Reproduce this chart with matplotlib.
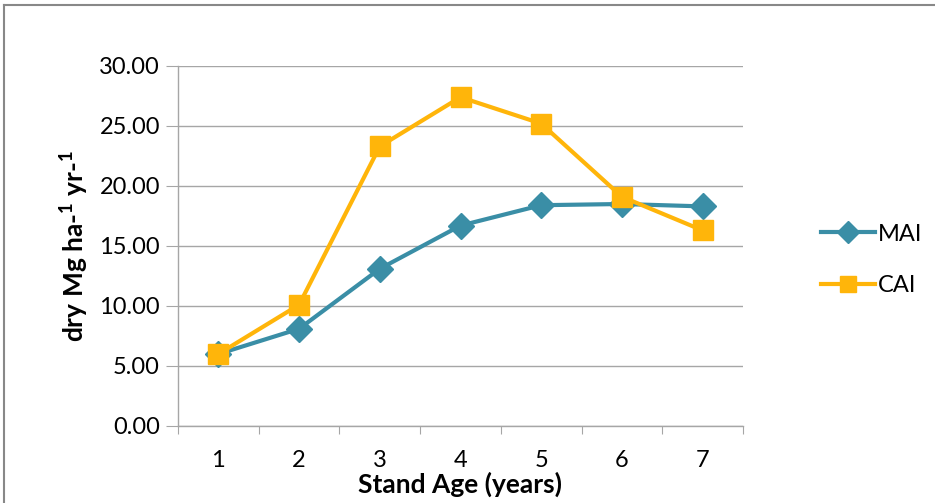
import numpy as np
import matplotlib
matplotlib.use("Agg")
from matplotlib import pyplot as plt
from matplotlib.lines import Line2D

# data
ages = [1, 2, 3, 4, 5, 6, 7]
mai = [6.0, 8.1, 13.1, 16.7, 18.4, 18.5, 18.3]
cai = [6.0, 10.1, 23.3, 27.4, 25.2, 19.1, 16.3]
yticks = [0, 5, 10, 15, 20, 25, 30]

plt.rcParams['font.family'] = ['Lato', 'DejaVu Sans']
plt.rcParams['mathtext.fontset'] = 'custom'
plt.rcParams['mathtext.bf'] = 'Lato:bold'
plt.rcParams['mathtext.rm'] = 'Lato:bold'

teal = '#3A8EA6'
gold = '#FFB50A'
grid_c = '#A6A6A6'

fig = plt.figure(figsize=(9.35, 5.03), dpi=100)
ax = fig.add_axes([178 / 935, 1 - 426 / 503, (743 - 178) / 935, (426 - 66) / 503])

ax.plot(ages, mai, color=teal, lw=3, marker='D', ms=13, label='MAI', zorder=3)
ax.plot(ages, cai, color=gold, lw=3, marker='s', ms=15, label='CAI', zorder=4)

ax.set_xlim(0.5, 7.5)
ax.set_ylim(0, 30)
ax.set_yticks(yticks)
ax.set_yticklabels(['%.2f' % v for v in yticks], fontsize=17)
ax.yaxis.grid(True, color=grid_c, lw=1)
ax.set_axisbelow(True)

# category axis: tick marks between categories, labels at centres
ax.set_xticks(np.arange(0.5, 8.0, 1.0))
ax.set_xticklabels([])
ax.set_xticks(ages, minor=True)
ax.set_xticklabels([str(a) for a in ages], minor=True, fontsize=17)
ax.tick_params(axis='x', which='major', length=6, color=grid_c)
ax.tick_params(axis='x', which='minor', length=0, pad=17)
ax.tick_params(axis='y', length=9, color=grid_c, pad=4)

for s in ['top', 'right']:
    ax.spines[s].set_visible(False)
for s in ['left', 'bottom']:
    ax.spines[s].set_color(grid_c)
    ax.spines[s].set_linewidth(1)

ax.set_xlabel('Stand Age (years)', fontsize=19, fontweight='bold', labelpad=1)
ax.set_ylabel(r'dry Mg ha-$^{1}$ yr-$^{1}$', fontsize=19, fontweight='bold', labelpad=6)

leg = fig.legend(loc='center left', bbox_to_anchor=(809 / 935, 1 - 260 / 503),
                 frameon=False, fontsize=17, labelspacing=1.3,
                 handlelength=2.3, handletextpad=0.1, borderpad=0)
for h in leg.legend_handles:
    h.set_markersize(11)

# outer chart frame (top and left edges visible)
fig.add_artist(Line2D([4 / 935, 4 / 935], [0, 1 - 5 / 503], color='#888888', lw=1.5))
fig.add_artist(Line2D([4 / 935, 1], [1 - 5 / 503, 1 - 5 / 503], color='#888888', lw=1.5))

fig.savefig('out.png', dpi=100)
